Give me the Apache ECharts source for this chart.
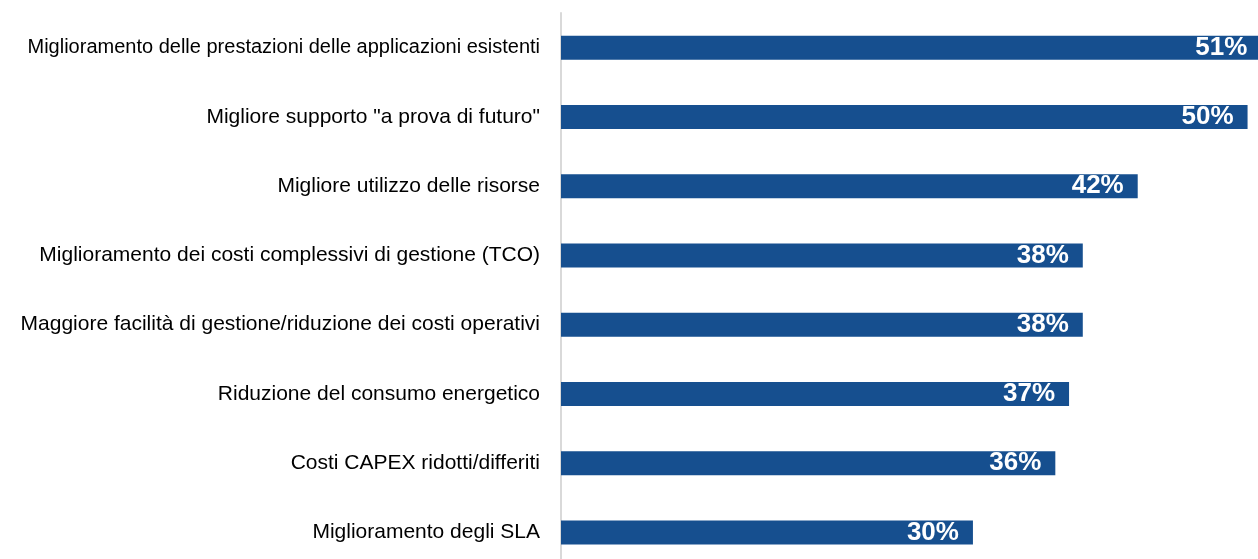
<!DOCTYPE html>
<html>
<head>
<meta charset="utf-8">
<script src="https://cdn.jsdelivr.net/npm/echarts@6/dist/echarts.min.js"></script>
<style>
  html, body { margin: 0; padding: 0; background: #fff; }
  #chart { width: 1258px; height: 559px; }
</style>
</head>
<body>
<div id="chart"></div>
<script>
// categorie e valori (%), dall'alto verso il basso
var categories = [
    'Miglioramento delle prestazioni delle applicazioni esistenti',
    'Migliore supporto "a prova di futuro"',
    'Migliore utilizzo delle risorse',
    'Miglioramento dei costi complessivi di gestione (TCO)',
    'Maggiore facilità di gestione/riduzione dei costi operativi',
    'Riduzione del consumo energetico',
    'Costi CAPEX ridotti/differiti',
    'Miglioramento degli SLA'
];
var values = [51, 50, 42, 38, 38, 37, 36, 30];

var chart = echarts.init(document.getElementById('chart'));

// la prima etichetta, la più lunga, è un po' più stretta nell'originale
var catData = categories.map(function (c, i) {
    return i === 0 ? { value: c, textStyle: { fontSize: 20 } } : c;
});

var option = {
    animation: false,
    grid: {
        left: 561,
        top: 13,
        right: 0,
        height: 554,           // l'ultima fascia esce sotto il bordo
        outerBoundsMode: 'none',
        containLabel: false
    },
    xAxis: {
        type: 'value',
        min: 0,
        max: 50.76,   // la barra del 51% esce leggermente dal bordo
        show: false
    },
    yAxis: {
        type: 'category',
        data: catData,
        inverse: true,
        axisTick: { show: false },
        axisLine: { show: true, lineStyle: { color: '#d9d9d9', width: 2 } },
        axisLabel: {
            color: '#000',
            fontFamily: 'Liberation Sans, Arial, sans-serif',
            fontSize: 21,
            margin: 21,
            padding: [0, 0, 6, 0]
        }
    },
    series: [
        {
            type: 'bar',
            data: values,
            barWidth: 24,
            clip: false,
            itemStyle: { color: '#164f8f' },
            label: {
                show: true,
                position: 'insideRight',
                distance: 14,
                formatter: '{c}%',
                color: '#fff',
                fontWeight: 'bold',
                fontFamily: 'Liberation Sans, Arial, sans-serif',
                fontSize: 26,
                padding: [6, 0, 0, 0]
            }
        }
    ]
};

chart.setOption(option);
</script>
</body>
</html>
